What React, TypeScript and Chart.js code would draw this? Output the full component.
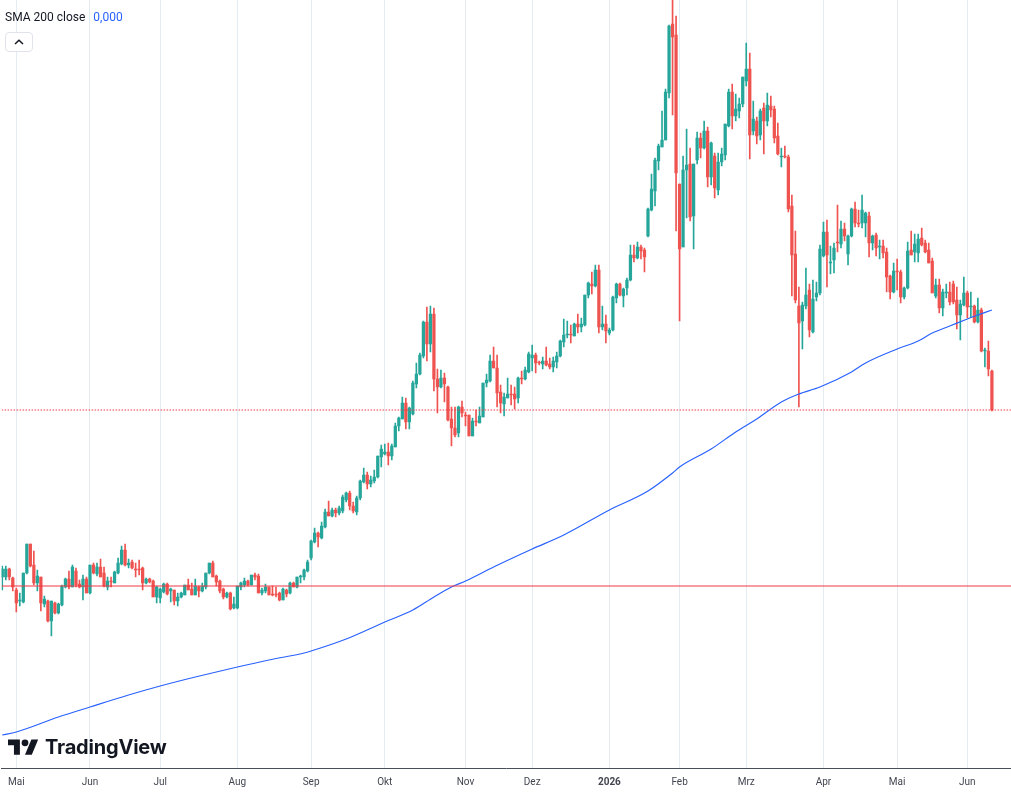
import React, { useEffect, useRef } from "react";
import { Chart, registerables } from "chart.js";

Chart.register(...registerables);

// Month gridlines (candle index of first trading day) and their labels
const monthTickIndex = [4, 25, 45, 67, 88, 109, 132, 151, 173, 193, 212, 234, 255, 275];
const monthTickLabels = ["Mai", "Jun", "Jul", "Aug", "Sep", "Okt", "Nov", "Dez", "2026", "Feb", "Mrz", "Apr", "Mai", "Jun"];

// Daily OHLC (price axis hidden, arbitrary units)
const openValues = [
  191, 191, 199, 190, 178, 167, 166, 195, 224, 203, 185, 191, 164, 167, 147, 165, 155, 163, 181, 189,
  181, 197, 184, 181, 189, 175, 203, 194, 201, 195, 181, 187, 185, 195, 204, 218, 203, 206, 199, 199,
  200, 185, 189, 187, 171, 170, 176, 184, 177, 178, 167, 171, 173, 183, 179, 173, 181, 177, 181, 195,
  205, 192, 187, 179, 171, 175, 160, 160, 181, 183, 187, 183, 193, 192, 175, 177, 181, 174, 174, 175,
  168, 178, 175, 185, 181, 191, 191, 197, 210, 226, 235, 230, 241, 256, 252, 258, 255, 257, 268, 275,
  262, 256, 270, 286, 293, 284, 287, 291, 311, 314, 316, 312, 321, 342, 349, 365, 346, 354, 384, 394,
  412, 446, 424, 454, 389, 381, 390, 381, 349, 340, 335, 361, 353, 353, 332, 347, 345, 351, 385, 387,
  407, 400, 376, 364, 370, 374, 374, 370, 390, 389, 396, 410, 413, 406, 404, 407, 404, 401, 406, 412,
  426, 433, 434, 432, 444, 441, 443, 473, 484, 482, 498, 441, 444, 435, 438, 470, 484, 472, 480, 488,
  513, 510, 521, 518, 532, 558, 577, 607, 621, 628, 675, 744, 733, 584, 521, 598, 604, 552, 608, 630,
  620, 637, 591, 612, 578, 606, 613, 642, 676, 652, 657, 664, 687, 699, 637, 647, 633, 660, 647, 662,
  659, 632, 611, 612, 611, 562, 514, 462, 447, 462, 478, 436, 471, 475, 512, 536, 505, 508, 526, 524,
  539, 514, 532, 559, 545, 545, 545, 552, 525, 533, 521, 522, 516, 492, 476, 497, 496, 471, 480, 518,
  516, 515, 530, 525, 518, 507, 472, 483, 460, 475, 476, 484, 468, 453, 463, 475, 461, 462, 446, 458,
  417, 417, 397,
];
const highValues = [
  202, 202, 200, 191, 180, 175, 195, 224, 224, 217, 198, 191, 172, 168, 167, 166, 165, 183, 190, 197,
  203, 200, 188, 193, 191, 203, 205, 205, 209, 201, 191, 191, 197, 210, 222, 224, 209, 208, 205, 208,
  201, 190, 190, 188, 182, 180, 185, 185, 180, 178, 175, 176, 183, 189, 185, 189, 182, 185, 195, 205,
  207, 193, 188, 180, 176, 176, 171, 182, 186, 190, 188, 193, 195, 194, 180, 184, 181, 182, 181, 176,
  180, 179, 186, 186, 191, 193, 199, 208, 228, 240, 236, 246, 259, 267, 260, 260, 262, 273, 276, 277,
  266, 272, 288, 300, 296, 292, 298, 312, 323, 324, 325, 324, 345, 351, 371, 370, 361, 387, 405, 415,
  447, 461, 462, 460, 399, 398, 395, 382, 361, 361, 362, 367, 356, 353, 350, 358, 361, 385, 394, 413,
  421, 413, 383, 375, 390, 383, 381, 391, 397, 401, 416, 423, 415, 407, 411, 421, 410, 411, 416, 428,
  449, 447, 443, 445, 454, 450, 473, 486, 496, 503, 503, 462, 453, 440, 472, 485, 485, 480, 490, 523,
  523, 526, 523, 520, 560, 594, 610, 624, 657, 679, 743, 768, 752, 584, 612, 639, 620, 604, 636, 635,
  647, 641, 626, 615, 615, 620, 644, 679, 684, 674, 670, 691, 725, 715, 667, 651, 659, 665, 675, 672,
  662, 645, 620, 622, 613, 573, 537, 481, 466, 500, 484, 488, 486, 523, 546, 548, 522, 525, 563, 547,
  545, 533, 560, 566, 558, 573, 556, 556, 533, 535, 528, 528, 520, 493, 505, 509, 498, 481, 526, 537,
  534, 534, 540, 528, 525, 510, 489, 489, 479, 484, 486, 487, 481, 468, 491, 477, 476, 463, 470, 460,
  420, 427, 398,
];
const lowValues = [
  178, 188, 188, 177, 156, 162, 165, 194, 201, 183, 177, 157, 161, 146, 132, 154, 154, 162, 180, 179,
  181, 181, 180, 168, 175, 174, 194, 192, 191, 181, 178, 181, 185, 194, 203, 202, 200, 199, 191, 193,
  178, 184, 185, 171, 165, 165, 175, 173, 166, 163, 162, 170, 173, 178, 173, 173, 171, 176, 179, 194,
  191, 182, 175, 169, 170, 158, 159, 159, 178, 181, 182, 183, 188, 175, 173, 175, 173, 172, 171, 167,
  168, 171, 174, 181, 180, 185, 188, 196, 208, 225, 221, 229, 240, 252, 251, 251, 253, 255, 266, 258,
  255, 253, 268, 285, 279, 281, 285, 290, 301, 313, 303, 308, 321, 337, 349, 339, 339, 353, 380, 393,
  410, 407, 416, 377, 355, 380, 366, 347, 322, 331, 331, 351, 342, 332, 332, 342, 345, 351, 381, 386,
  400, 361, 355, 352, 370, 363, 359, 365, 384, 388, 395, 397, 395, 403, 399, 402, 399, 396, 400, 411,
  421, 430, 425, 432, 435, 436, 442, 470, 474, 481, 435, 438, 425, 433, 437, 465, 472, 461, 473, 487,
  506, 509, 509, 496, 531, 557, 562, 598, 621, 628, 670, 653, 537, 447, 521, 550, 547, 519, 604, 610,
  619, 581, 583, 570, 573, 602, 608, 641, 639, 647, 650, 661, 682, 609, 633, 624, 628, 614, 642, 651,
  625, 613, 601, 610, 556, 472, 465, 361, 419, 459, 431, 435, 467, 473, 511, 481, 494, 495, 516, 520,
  527, 503, 531, 541, 541, 540, 531, 511, 518, 512, 509, 510, 476, 469, 475, 478, 465, 469, 479, 513,
  506, 506, 522, 515, 505, 475, 470, 455, 452, 470, 463, 464, 439, 428, 462, 450, 451, 445, 445, 416,
  401, 392, 357,
];
const closeValues = [
  199, 199, 191, 181, 165, 168, 195, 224, 202, 185, 192, 165, 169, 147, 167, 155, 164, 182, 189, 181,
  201, 183, 181, 189, 175, 203, 195, 201, 191, 182, 187, 186, 196, 205, 218, 203, 205, 200, 198, 198,
  185, 189, 186, 171, 181, 179, 184, 174, 179, 167, 171, 175, 183, 178, 173, 182, 177, 182, 195, 205,
  191, 186, 177, 171, 175, 159, 164, 182, 185, 187, 183, 193, 191, 175, 178, 181, 173, 173, 173, 168,
  179, 174, 185, 181, 191, 192, 198, 206, 227, 235, 231, 242, 256, 252, 258, 255, 260, 271, 275, 262,
  257, 270, 287, 293, 284, 288, 291, 312, 319, 316, 312, 322, 342, 350, 365, 346, 360, 385, 394, 413,
  446, 424, 454, 389, 381, 390, 384, 348, 340, 333, 361, 355, 352, 332, 347, 346, 352, 385, 388, 407,
  400, 375, 365, 371, 374, 373, 369, 390, 389, 398, 414, 413, 405, 405, 407, 403, 401, 407, 412, 427,
  433, 434, 433, 444, 441, 444, 473, 485, 482, 498, 441, 444, 437, 438, 471, 484, 473, 479, 488, 513,
  510, 521, 517, 511, 559, 579, 608, 622, 628, 676, 742, 731, 595, 519, 598, 603, 551, 604, 630, 620,
  637, 591, 625, 580, 606, 614, 644, 676, 652, 659, 664, 691, 699, 633, 649, 632, 657, 647, 663, 658,
  630, 614, 612, 611, 559, 513, 468, 445, 463, 473, 438, 469, 475, 519, 536, 513, 506, 520, 525, 539,
  532, 532, 559, 545, 544, 558, 555, 525, 532, 520, 522, 515, 491, 476, 497, 496, 471, 480, 517, 513,
  524, 529, 523, 516, 505, 475, 483, 460, 476, 476, 466, 466, 453, 464, 475, 461, 462, 446, 458, 417,
  418, 399, 358,
];

// SMA 200 (close) read at sample candles
const smaIndex = [0, 4, 16, 25, 36, 45, 55, 67, 76, 86, 88, 98, 109, 117, 123, 128, 132, 140, 151, 160, 173, 184, 191, 193, 202, 209, 215, 222, 227, 233, 242, 246, 255, 261, 265, 270, 275, 278, 282];
const smaValues = [33, 36, 51, 61, 73, 82, 91, 101, 108, 115, 117, 129, 146, 158, 171, 181, 187, 201, 219, 233, 258, 277, 295, 301, 319, 336, 349, 366, 374, 381, 396, 405, 419, 427, 435, 442, 449, 453, 458];

const levelLine = 182;
const smaLegendValue = "0,000";

const UP = "#26a69a";
const DOWN = "#ef5350";

export default function App() {
  const canvasRef = useRef<HTMLCanvasElement | null>(null);

  useEffect(() => {
    const canvas = canvasRef.current;
    if (!canvas) return;
    const xMin = -0.185;
    const xMax = 287.44;
    const idx = openValues.map((_, i) => i);
    const colors = idx.map((i) => (closeValues[i] >= openValues[i] ? UP : DOWN));
    const lastClose = closeValues[closeValues.length - 1];

    const chart = new Chart(canvas, {
      type: "bar",
      data: {
        datasets: [
          {
            type: "bar",
            label: "wick",
            data: idx.map((i) => ({ x: i, y: [lowValues[i], highValues[i]] })) as any,
            backgroundColor: colors,
            barThickness: 1,
            minBarLength: 1,
            grouped: false,
            borderWidth: 0,
            order: 5,
          } as any,
          {
            type: "bar",
            label: "body",
            data: idx.map((i) => ({ x: i, y: [openValues[i], closeValues[i]] })) as any,
            backgroundColor: colors,
            barThickness: 2.6,
            minBarLength: 1,
            grouped: false,
            borderWidth: 0,
            order: 4,
          } as any,
          {
            type: "line",
            label: "SMA 200 close",
            data: smaIndex.map((x, k) => ({ x, y: smaValues[k] })),
            borderColor: "#2962ff",
            borderWidth: 1.2,
            pointRadius: 0,
            cubicInterpolationMode: "monotone",
            order: 2,
          } as any,
          {
            type: "line",
            label: "level",
            data: [
              { x: xMin, y: levelLine },
              { x: xMax, y: levelLine },
            ],
            borderColor: "#f23645",
            borderWidth: 1.2,
            pointRadius: 0,
            order: 1,
          } as any,
          {
            type: "line",
            label: "last",
            data: [
              { x: xMin, y: lastClose },
              { x: xMax, y: lastClose },
            ],
            borderColor: "#f23645",
            borderWidth: 1.2,
            borderDash: [1.5, 1.5],
            pointRadius: 0,
            order: 1,
          } as any,
        ],
      },
      options: {
        responsive: false,
        animation: false,
        devicePixelRatio: 1,
        layout: { padding: { left: 0, right: 0, top: 0, bottom: 0 } },
        plugins: { legend: { display: false }, tooltip: { enabled: false } },
        scales: {
          x: {
            type: "linear",
            min: xMin,
            max: xMax,
            offset: false,
            grid: { color: "#e3ebf3", drawTicks: false, offset: false, lineWidth: 1 },
            border: { display: true, color: "#4a4e59", width: 1 },
            afterBuildTicks: (scale: any) => {
              scale.ticks = monthTickIndex.map((v) => ({ value: v }));
            },
            ticks: {
              autoSkip: false,
              maxRotation: 0,
              padding: 8,
              color: "#434651",
              font: (ctx: any) => ({
                family: "Roboto",
                size: 10,
                weight: monthTickLabels[ctx.index] === "2026" ? "bold" : "normal",
              }),
              callback: (_v: any, i: number) => monthTickLabels[i],
            },
          } as any,
          y: { display: false, min: 0, max: 768 },
        },
      },
    });
    return () => chart.destroy();
  }, []);

  return (
    <div
      style={{
        position: "fixed",
        left: 0,
        top: 0,
        width: 1011,
        height: 796,
        background: "#ffffff",
        overflow: "hidden",
      }}
    >
      <canvas
        ref={canvasRef}
        width={1011}
        height={796}
        style={{ position: "absolute", left: 0, top: 0, width: 1011, height: 796 }}
      />
      <div
        style={{
          position: "absolute",
          left: 5,
          top: 9,
          font: "12px Roboto",
          lineHeight: "16px",
          color: "#131722",
          whiteSpace: "nowrap",
        }}
      >
        SMA 200 close<span style={{ color: "#2962ff", marginLeft: 8 }}>{smaLegendValue}</span>
      </div>
      <div
        style={{
          position: "absolute",
          left: 5,
          top: 32,
          width: 28,
          height: 20,
          boxSizing: "border-box",
          border: "1px solid #e0e3eb",
          borderRadius: 4,
          background: "#ffffff",
          display: "flex",
          alignItems: "center",
          justifyContent: "center",
        }}
      >
        <svg width="10" height="6" viewBox="0 0 10 6">
          <polyline points="1,5 5,1.2 9,5" fill="none" stroke="#131722" strokeWidth="1.5" />
        </svg>
      </div>
      <svg
        width="30.6"
        height="23.8"
        viewBox="0 0 36 28"
        style={{ position: "absolute", left: 8.3, top: 735.6 }}
      >
        <path d="M14 22H7V11H0V4h14v18zM28 22h-8l7.5-18h8L28 22z" fill="#131722" />
        <circle cx="20" cy="8" r="4" fill="#131722" />
      </svg>
      <div
        style={{
          position: "absolute",
          left: 45,
          top: 737,
          font: "700 20px Inter",
          lineHeight: "20px",
          color: "#131722",
          whiteSpace: "nowrap",
          letterSpacing: "-0.2px",
        }}
      >
        TradingView
      </div>
    </div>
  );
}
